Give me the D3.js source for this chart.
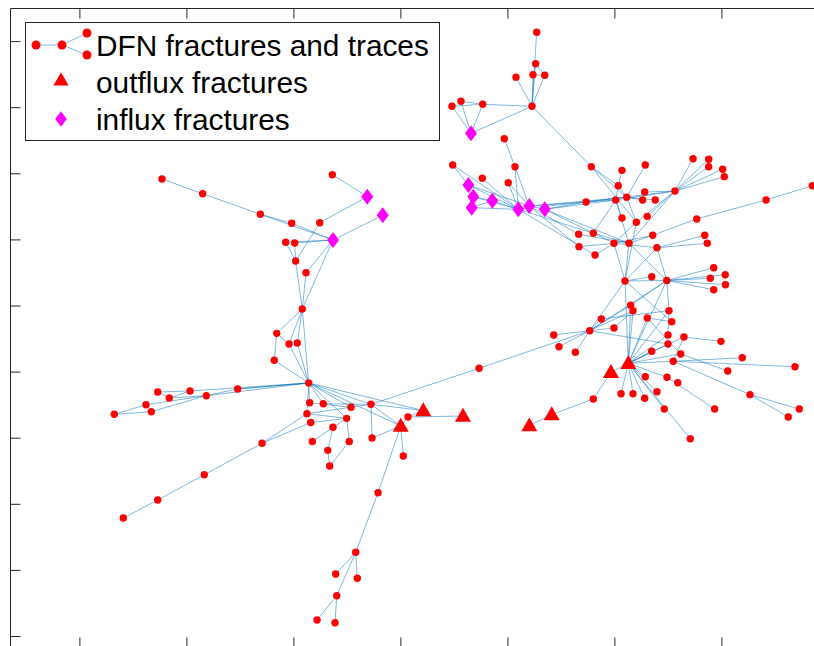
<!DOCTYPE html>
<html>
<head>
<meta charset="utf-8">
<script src="https://cdn.jsdelivr.net/npm/d3@7"></script>
<style>
  body { margin: 0; background: #fff; }
  svg { display: block; }
</style>
</head>
<body>
<div id="chart"></div>
<script>
// tick positions (no labels shown on the axes)
var xTicks = [0, 1, 2, 3, 4, 5, 6];
var yTicks = [0, 1, 2, 3, 4, 5, 6, 7, 8, 9];

// fracture nodes: [id, x, y]
var dfnNodes = [
  ["A1", 4.274, 9.133], ["A2", 4.264, 8.658], ["A3", 4.239, 8.492], ["A4", 4.349, 8.483],
  ["A5", 4.080, 8.452], ["A6", 4.230, 8.014], ["A7", 3.566, 8.089], ["A8", 3.482, 8.014],
  ["A9", 3.769, 8.044], ["A10", 3.971, 7.523],
  ["N1", 3.489, 7.126], ["N2", 3.765, 6.924], ["N3", 4.071, 7.100], ["N4", 4.008, 6.858],
  ["B1", 4.784, 7.100], ["B2", 5.071, 7.045], ["B3", 5.289, 7.126], ["B4", 5.735, 7.221],
  ["B5", 5.881, 7.212], ["B6", 5.881, 7.100], ["B7", 6.012, 7.061], ["B8", 6.027, 6.949],
  ["B9", 5.036, 6.812], ["B10", 5.566, 6.732], ["B11", 5.283, 6.717], ["B12", 4.735, 6.566],
  ["B13", 5.012, 6.596], ["B14", 5.115, 6.637], ["B15", 5.264, 6.596], ["B16", 5.382, 6.596],
  ["B17", 6.850, 6.812], ["B18", 6.417, 6.596], ["B19", 5.071, 6.324], ["B20", 5.307, 6.349],
  ["B21", 5.205, 6.259], ["B22", 5.769, 6.309], ["B23", 4.666, 6.077], ["B24", 4.803, 6.092],
  ["B25", 5.358, 6.062], ["B26", 5.844, 6.062], ["B27", 5.868, 5.941], ["B28", 4.669, 5.890],
  ["B29", 4.996, 5.941], ["B30", 5.136, 5.941], ["B31", 5.398, 5.874], ["B32", 4.819, 5.764],
  ["B33", 5.099, 5.371], ["B34", 5.349, 5.436], ["B35", 5.489, 5.378], ["B36", 5.928, 5.572],
  ["B37", 5.896, 5.412], ["B38", 6.036, 5.466], ["B39", 6.038, 5.315], ["B40", 5.928, 5.239],
  ["C1", 5.152, 5.003], ["C2", 5.174, 4.921], ["C3", 5.510, 4.921], ["C4", 4.878, 4.796],
  ["C5", 5.307, 4.811], ["C6", 5.536, 4.755], ["C7", 4.996, 4.660], ["C8", 4.769, 4.619],
  ["C9", 4.433, 4.554], ["C10", 4.482, 4.377], ["C11", 4.635, 4.292], ["C12", 5.501, 4.554],
  ["C13", 5.650, 4.523], ["C14", 5.501, 4.418], ["C15", 5.996, 4.458], ["C16", 5.349, 4.307],
  ["C17", 5.620, 4.266], ["C18", 5.550, 4.156], ["C19", 6.195, 4.210], ["C20", 6.688, 4.074],
  ["C21", 6.059, 4.009], ["C22", 5.289, 3.923], ["C23", 5.492, 3.914], ["C24", 5.592, 3.832],
  ["C25", 5.062, 3.666], ["C26", 5.174, 3.666], ["C27", 5.283, 3.596], ["C28", 5.398, 3.696],
  ["C29", 4.803, 3.585], ["C30", 5.466, 3.434], ["C31", 5.937, 3.434], ["C32", 6.267, 3.651],
  ["C33", 6.728, 3.434], ["C34", 6.625, 3.313], ["C35", 5.709, 2.985],
  ["E1", 3.735, 4.050], ["E2", 3.071, 3.313],
  ["H", 2.143, 3.828], ["L1", 2.152, 3.529], ["L2", 2.279, 3.514], ["L3", 2.538, 3.460],
  ["L4", 2.725, 3.505], ["L5", 2.127, 3.363], ["L6", 2.498, 3.293], ["L7", 2.162, 3.230],
  ["L8", 2.370, 3.157], ["L9", 2.177, 2.943], ["L10", 2.522, 2.943], ["L11", 2.735, 2.995],
  ["L12", 2.321, 2.809], ["L13", 2.339, 2.572], ["L14", 3.027, 2.723],
  ["M1", 2.083, 4.947], ["M2", 1.844, 4.579], ["M3", 1.959, 4.418], ["M4", 2.036, 4.433],
  ["M5", 1.821, 4.171], ["M6", 0.732, 3.691], ["M7", 1.034, 3.707], ["M8", 1.479, 3.737],
  ["M9", 0.840, 3.601], ["M10", 1.186, 3.635], ["M11", 0.622, 3.499], ["M12", 0.672, 3.393],
  ["M13", 0.326, 3.354], ["M14", 1.707, 2.915],
  ["P1", 1.167, 2.440], ["P2", 0.732, 2.057], ["P3", 0.410, 1.785],
  ["Q1", 2.791, 2.168], ["Q2", 2.582, 1.266], ["Q3", 2.395, 0.938], ["Q4", 2.597, 0.873],
  ["Q5", 2.405, 0.610], ["Q6", 2.221, 0.242], ["Q7", 2.389, 0.201],
  ["K1", 0.772, 6.914], ["K2", 1.152, 6.691], ["K3", 1.691, 6.380], ["K4", 1.984, 6.244],
  ["K5", 2.364, 6.979], ["K6", 2.246, 6.253], ["K7", 1.928, 5.956], ["K8", 2.012, 5.946],
  ["K9", 2.021, 5.673], ["K10", 2.118, 5.496]
];

// outflux fractures: [id, x, y]
var outfluxNodes = [
  ["T1", 5.130, 4.126], ["T2", 4.968, 3.989], ["T3", 4.414, 3.351], ["T7", 4.205, 3.182],
  ["T4", 3.214, 3.411], ["T5", 3.585, 3.328], ["T6", 3.003, 3.177]
];

// influx fractures: [id, x, y]
var influxNodes = [
  ["D1", 3.660, 7.605], ["D2", 2.691, 6.646], ["D3", 2.835, 6.365], ["D4", 2.370, 5.991],
  ["D5", 3.635, 6.823], ["D6", 3.681, 6.646], ["D7", 3.666, 6.480], ["D8", 3.859, 6.586],
  ["D9", 4.102, 6.455], ["D10", 4.205, 6.505], ["D11", 4.349, 6.455]
];

// intersections between fractures
var edges = [
  ["A1", "A6"], ["A2", "A6"], ["A3", "A6"], ["A4", "A6"], ["A5", "A6"], ["A2", "A4"], ["A3", "A4"],
  ["A6", "A9"], ["A6", "D1"], ["A7", "A9"], ["A8", "A9"], ["A7", "D1"], ["A8", "D1"], ["A9", "D1"],
  ["A6", "B1"], ["A10", "N3"], ["N3", "D9"], ["N3", "D10"], ["N4", "D9"], ["N4", "D10"],
  ["N2", "D9"], ["N1", "D5"], ["N1", "D9"],
  ["D5", "D9"], ["D6", "D9"], ["D7", "D9"], ["D8", "D9"], ["D6", "D8"], ["D7", "D8"], ["D5", "D10"],
  ["D9", "B12"], ["D10", "B12"], ["D11", "B12"], ["D11", "B13"], ["D10", "B14"], ["D9", "B24"],
  ["D10", "B23"], ["D11", "B29"], ["D11", "B30"], ["D9", "B32"], ["D10", "B28"],
  ["B1", "B9"], ["B1", "B14"], ["B1", "B21"], ["B2", "B9"], ["B9", "B13"], ["B9", "B14"], ["B3", "B14"],
  ["B10", "B4"], ["B10", "B5"], ["B10", "B6"], ["B10", "B7"], ["B10", "B8"], ["B10", "B11"],
  ["B10", "B13"], ["B10", "B12"], ["B10", "B21"], ["B10", "B20"], ["B10", "B30"],
  ["B12", "B13"], ["B12", "B14"], ["B14", "B15"], ["B14", "B16"], ["B13", "B19"], ["B14", "B21"],
  ["B13", "B30"], ["B17", "B18"], ["B18", "B22"], ["B22", "B25"], ["B25", "B30"], ["B25", "B29"],
  ["B31", "B26"], ["B31", "B27"], ["B31", "B29"], ["B21", "B29"], ["B24", "B13"],
  ["B28", "B29"], ["B23", "B30"], ["B24", "B30"], ["B32", "B29"],
  ["B33", "B29"], ["B33", "B30"], ["B33", "B21"], ["B33", "B34"], ["B33", "B35"],
  ["B35", "B36"], ["B35", "B37"], ["B35", "B38"], ["B35", "B39"], ["B35", "B40"], ["B35", "B30"],
  ["B35", "B31"], ["B33", "B31"],
  ["C8", "C9"], ["C8", "C10"], ["C8", "C11"], ["C8", "C4"], ["C8", "C7"], ["C8", "C2"], ["C8", "C1"],
  ["C8", "E1"], ["C8", "C14"], ["C8", "B35"], ["C8", "B33"], ["C4", "C3"], ["C7", "C2"],
  ["T1", "C1"], ["T1", "C2"], ["T1", "C5"], ["T1", "C12"], ["T1", "C14"], ["T1", "C16"],
  ["T1", "C17"], ["T1", "C18"], ["T1", "C22"], ["T1", "C23"], ["T1", "C25"], ["T1", "C26"],
  ["T1", "C27"], ["T1", "C28"], ["T1", "C30"], ["T1", "T2"], ["T1", "C35"], ["T1", "B33"],
  ["T1", "C3"], ["T1", "B35"], ["T1", "C13"],
  ["C18", "C19"], ["C18", "C20"], ["C13", "C15"], ["C17", "C21"], ["C18", "C32"], ["C32", "C33"],
  ["C32", "C34"], ["C23", "C31"], ["C3", "C12"], ["B35", "C3"], ["C6", "C5"], ["C6", "B33"],
  ["C1", "B35"], ["C5", "C17"], ["C13", "C18"],
  ["T2", "C29"], ["C29", "T3"], ["T3", "T7"],
  ["E1", "L4"], ["E2", "T4"], ["E2", "T6"], ["E2", "T5"],
  ["H", "L4"], ["H", "L3"], ["H", "T4"], ["H", "T6"], ["H", "L6"], ["H", "L2"], ["H", "L1"], ["H", "L5"],
  ["L2", "L4"], ["L1", "L3"], ["L5", "L4"], ["L5", "L6"], ["L6", "L8"], ["L7", "L6"], ["L8", "L9"],
  ["L10", "L6"], ["L11", "L4"], ["L11", "T6"], ["L12", "L8"], ["L12", "L13"], ["L13", "L10"],
  ["L14", "T6"], ["T6", "Q1"], ["L4", "T4"], ["L4", "T6"],
  ["H", "M8"], ["M14", "L5"], ["M14", "L7"], ["M14", "P1"], ["P1", "P2"], ["P2", "P3"],
  ["H", "M1"], ["H", "M5"], ["H", "M3"], ["H", "M4"], ["M1", "M2"], ["M1", "M3"], ["M1", "M4"],
  ["M2", "M5"], ["M2", "M3"],
  ["M1", "K10"], ["M1", "D4"], ["K10", "D4"], ["K9", "M1"],
  ["K1", "K2"], ["K2", "K3"], ["K3", "K4"], ["K3", "D4"], ["K4", "D4"], ["K5", "D2"], ["D2", "K6"],
  ["K6", "K9"], ["D3", "D4"], ["D4", "K7"], ["D4", "K8"], ["K7", "K9"], ["K8", "K9"],
  ["M13", "M11"], ["M13", "M12"], ["M11", "M10"], ["M12", "M10"], ["M6", "M7"], ["M6", "M9"],
  ["M9", "M7"], ["M9", "M10"], ["M10", "M8"], ["M8", "H"], ["M10", "H"], ["M7", "H"],
  ["Q1", "Q2"], ["Q2", "Q3"], ["Q2", "Q4"], ["Q2", "Q5"], ["Q5", "Q6"], ["Q5", "Q7"]
];

var legendLabels = ["DFN fractures and traces", "outflux fractures", "influx fractures"];

function init() {
    var w = 814, h = 646;
    var axLeft = 10.5, axTop = 8.5, axBottom = 647.5;

    var svg = d3.select("#chart")
        .append("svg")
        .attr("width", w)
        .attr("height", h);

    var xScale = d3.scaleLinear().domain([0, 6]).range([79.4, 721.4]);
    var yScale = d3.scaleLinear().domain([0, 9]).range([636, 41.1]);

    var pos = {};
    dfnNodes.concat(outfluxNodes, influxNodes).forEach(function (d) {
        pos[d[0]] = [xScale(d[1]), yScale(d[2])];
    });

    // edges
    svg.append("g")
        .selectAll("line")
        .data(edges)
        .enter()
        .append("line")
        .attr("x1", d => pos[d[0]][0])
        .attr("y1", d => pos[d[0]][1])
        .attr("x2", d => pos[d[1]][0])
        .attr("y2", d => pos[d[1]][1])
        .attr("stroke", "#0072BD")
        .attr("stroke-opacity", 0.5)
        .attr("stroke-width", 1);

    // nodes
    svg.append("g")
        .selectAll("circle")
        .data(dfnNodes)
        .enter()
        .append("circle")
        .attr("cx", d => xScale(d[1]))
        .attr("cy", d => yScale(d[2]))
        .attr("r", 3.7)
        .attr("fill", "#ff0000");

    var tri = d3.symbol().type(d3.symbolTriangle).size(112);
    var dia = d3.symbol().type(d3.symbolSquare).size(128);

    svg.append("g")
        .selectAll("path")
        .data(outfluxNodes)
        .enter()
        .append("path")
        .attr("d", tri)
        .attr("transform", d => "translate(" + xScale(d[1]) + "," + (yScale(d[2]) + 1) + ")")
        .attr("fill", "#ff0000");

    svg.append("g")
        .selectAll("path")
        .data(influxNodes)
        .enter()
        .append("path")
        .attr("d", dia)
        .attr("transform", d => "translate(" + xScale(d[1]) + "," + yScale(d[2]) + ") scale(0.75,1) rotate(45)")
        .attr("fill", "#ff00ff");

    // axes: ticks pointing inward, no labels
    var axisColor = "#262626";
    var gTop = svg.append("g")
        .attr("transform", "translate(0," + axTop + ")")
        .call(d3.axisBottom(xScale).tickValues(xTicks).tickFormat("").tickSizeInner(10).tickSizeOuter(0));
    var gBottom = svg.append("g")
        .attr("transform", "translate(0," + axBottom + ")")
        .call(d3.axisTop(xScale).tickValues(xTicks).tickFormat("").tickSizeInner(10).tickSizeOuter(0));
    var gLeft = svg.append("g")
        .attr("transform", "translate(" + axLeft + ",0)")
        .call(d3.axisRight(yScale).tickValues(yTicks).tickFormat("").tickSizeInner(10).tickSizeOuter(0));
    [gTop, gBottom, gLeft].forEach(function (g) {
        g.select(".domain").remove();
        g.selectAll("line").attr("stroke", axisColor).attr("stroke-width", 1);
    });
    svg.append("line").attr("x1", axLeft).attr("x2", w).attr("y1", axTop).attr("y2", axTop)
        .attr("stroke", axisColor);
    svg.append("line").attr("x1", axLeft).attr("x2", axLeft).attr("y1", axTop).attr("y2", axBottom)
        .attr("stroke", axisColor);

    // legend
    var lg = svg.append("g");
    lg.append("rect")
        .attr("x", 25.5).attr("y", 22.5).attr("width", 414).attr("height", 118)
        .attr("fill", "#fff").attr("stroke", axisColor).attr("stroke-width", 1);

    var rowY = [45, 82, 119];
    var icon = [[36, 45], [62, 45], [87, 33], [87, 55]];
    [[0, 1], [1, 2], [1, 3]].forEach(function (e) {
        lg.append("line")
            .attr("x1", icon[e[0]][0]).attr("y1", icon[e[0]][1])
            .attr("x2", icon[e[1]][0]).attr("y2", icon[e[1]][1])
            .attr("stroke", "#0072BD").attr("stroke-opacity", 0.5);
    });
    icon.forEach(function (p) {
        lg.append("circle").attr("cx", p[0]).attr("cy", p[1]).attr("r", 4.5).attr("fill", "#ff0000");
    });
    lg.append("path").attr("d", d3.symbol().type(d3.symbolTriangle).size(100))
        .attr("transform", "translate(61," + (rowY[1] - 1) + ")").attr("fill", "#ff0000");
    lg.append("path").attr("d", d3.symbol().type(d3.symbolSquare).size(120))
        .attr("transform", "translate(61," + rowY[2] + ") scale(0.75,1) rotate(45)").attr("fill", "#ff00ff");

    lg.selectAll("text.lbl")
        .data(legendLabels)
        .enter()
        .append("text")
        .attr("class", "lbl")
        .attr("x", 96)
        .attr("y", (d, i) => rowY[i])
        .attr("dy", "0.36em")
        .attr("font-family", "Liberation Sans, Arial, sans-serif")
        .attr("font-size", "29.8px")
        .attr("fill", "#000")
        .text(d => d);
}

window.onload = init;
</script>
</body>
</html>
